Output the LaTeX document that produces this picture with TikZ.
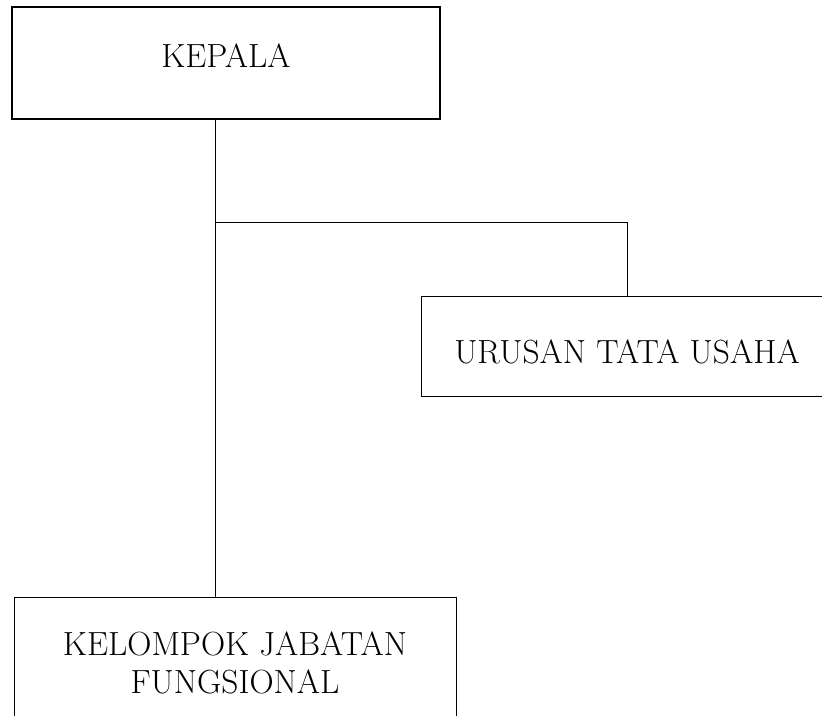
\documentclass[tikz,border=0pt]{standalone}
\begin{document}
\begin{tikzpicture}[x=1pt,y=-1pt,
  orgbox/.style={draw=black, rectangle, inner sep=0pt, align=center,
    font=\fontsize{33.5}{38}\selectfont},
  link/.style={draw=black, line width=0.9pt}]
\useasboundingbox (0,0) rectangle (822,715);
\clip (0,0) rectangle (822,715);
\node[orgbox, line width=2.2pt, minimum width=428pt, minimum height=112pt,
  text height=20pt, text depth=12pt] (kepala) at (226,63) {KEPALA};
\node[orgbox, line width=0.9pt, minimum width=412pt, minimum height=100pt,
  text height=34pt, text depth=0pt] (urusan) at (627,346) {URUSAN TATA USAHA};
\node[orgbox, line width=0.9pt, minimum width=442pt, minimum height=130pt, anchor=north] (kelompok) at (235,597) {KELOMPOK JABATAN\\FUNGSIONAL};
\coordinate (j) at (215,222.7);
\draw[link] (kepala.south -| j) -- (kelompok.north -| j);
\draw[link] (j) -| (urusan.north);
\end{tikzpicture}
\end{document}
